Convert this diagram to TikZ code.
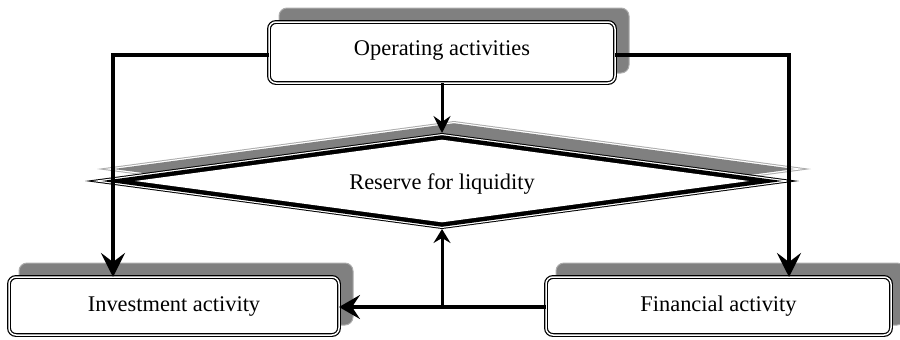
\documentclass[tikz,border=0pt]{standalone}
\usepackage{fontspec}
\setmainfont{Liberation Serif}
\usetikzlibrary{arrows.meta,shapes.geometric}
\pgfdeclarelayer{background}
\pgfsetlayers{background,main}

% Filled rhombus built on the anchors of node res:
% #1 style, #2 horizontal inset at the tips, #3 vertical inset at top/bottom, #4,#5 offset
\newcommand\rhomb[5]{%
  \fill[#1] ([shift={({#4},{#5+#3})}]res.north)
    -- ([shift={({#4-#2},{#5})}]res.east)
    -- ([shift={({#4},{#5-#3})}]res.south)
    -- ([shift={({#4+#2},{#5})}]res.west) -- cycle;}

\definecolor{shadefill}{RGB}{128,128,128}
\definecolor{shadeline}{RGB}{172,172,172}

\tikzset{
  actbox/.style={rectangle, rounded corners=3.5pt, draw=black, double=white,
    line width=0.6pt, double distance=0.75pt, fill=white, inner sep=0pt, outer sep=0pt,
    font=\fontsize{11.2pt}{13pt}\selectfont},
  shadowbox/.style={fill=shadefill, draw=shadeline, line width=0.5pt, rounded corners=4pt},
  conn/.style={line width=2pt, -{Stealth[length=12pt, width=12pt, inset=4.5pt]}},
  thinconn/.style={line width=1.5pt, -{Stealth[length=8.5pt, width=8.5pt, inset=3pt]}},
  upconn/.style={line width=1.5pt, -{Stealth[length=7pt, width=8.5pt, inset=2.5pt]}},
  sideconn/.style={line width=2.2pt, -{Stealth[length=10.5pt, width=12pt, inset=4pt]}},
}

\begin{document}
\begin{tikzpicture}[x=0.5pt, y=-0.5pt]
\useasboundingbox (0,0) rectangle (900,339);

% activity boxes
\node[actbox, minimum width=173pt, minimum height=30.5pt, text height=6.5pt, text depth=4pt]
  (op) at (442,52.5) {Operating activities};
\node[actbox, minimum width=165pt, minimum height=29pt, text height=7.5pt, text depth=2.5pt]
  (inv) at (174,306) {Investment activity};
\node[actbox, minimum width=172.5pt, minimum height=29pt, text height=7.5pt, text depth=2.5pt]
  (fin) at (718.5,306) {Financial activity};

% liquidity reserve (outline drawn on the background layer)
\node[diamond, shape aspect=7.44, minimum width=357pt, minimum height=48pt, inner sep=0pt,
  outer sep=0pt, text height=10pt, text depth=2pt, font=\fontsize{11.2pt}{13pt}\selectfont]
  (res) at (442,181) {Reserve for liquidity};

\begin{pgfonlayer}{background}
  % box shadows
  \foreach \b in {op,inv,fin}{
    \draw[shadowbox] ([shift={(10,-10)}]\b.south west) rectangle ([shift={(14,-14)}]\b.north east);
  }
  % rhombus shadow
  \rhomb{shadeline}{0}{0}{12}{-12}
  \rhomb{white}{7.5}{1.01}{12}{-12}
  \rhomb{shadefill}{16.5}{2.22}{12}{-12}
  % rhombus double outline: thin outer, thick inner
  \rhomb{black}{0}{0}{0}{0}
  \rhomb{white}{7.5}{1.01}{0}{0}
  \rhomb{black}{16.5}{2.22}{0}{0}
  \rhomb{white}{50}{6.7}{0}{0}
\end{pgfonlayer}

% connectors
\draw[conn] ([shift={(0,2.5)}]op.west) -| ([shift={(-61,0)}]inv.north);
\draw[conn] ([shift={(0,2.5)}]op.east) -| ([shift={(70.5,0)}]fin.north);
\draw[thinconn] (op.south) -- (res.north);
\draw[sideconn] ([shift={(0,1)}]fin.west) -- ([shift={(0,1)}]inv.east);
\coordinate (j) at ([shift={(0,1)}]res.south |- fin.west);
\draw[upconn] (j) -- (res.south);
\end{tikzpicture}
\end{document}
